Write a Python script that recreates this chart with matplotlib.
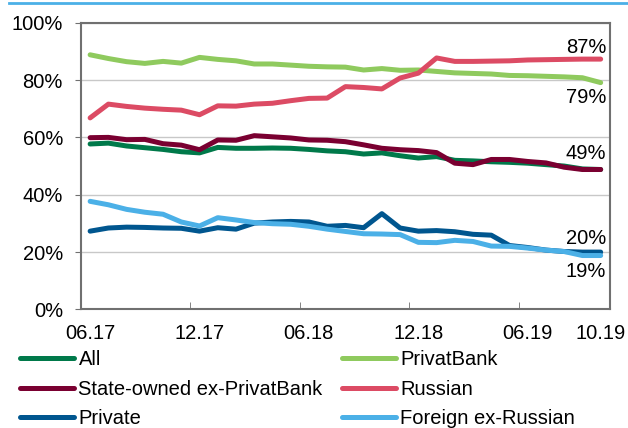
import matplotlib.pyplot as plt
from matplotlib.lines import Line2D
import numpy as np

plt.rcParams['font.family'] = ['Liberation Sans', 'DejaVu Sans']

# monthly, 06.17 .. 10.19
tick_pos = [0, 6, 12, 18, 24, 28]
tick_labels = ["06.17", "12.17", "06.18", "12.18", "06.19", "10.19"]

all_banks = [57.7, 58.0, 57.0, 56.4, 55.8, 55.0, 54.6, 56.5, 56.2, 56.2,
             56.3, 56.2, 55.8, 55.3, 55.0, 54.2, 54.6, 53.6, 52.8, 53.3,
             52.0, 51.8, 51.5, 51.3, 51.0, 50.5, 50.0, 49.0, 48.8]
privatbank = [88.8, 87.5, 86.4, 85.8, 86.5, 85.9, 87.9, 87.2, 86.7, 85.6,
              85.6, 85.2, 84.8, 84.6, 84.5, 83.5, 84.0, 83.4, 83.5, 83.0,
              82.5, 82.3, 82.1, 81.6, 81.5, 81.3, 81.1, 80.8, 79.1]
state_owned = [59.9, 60.0, 59.2, 59.3, 57.8, 57.3, 55.7, 59.1, 59.0, 60.6,
               60.2, 59.8, 59.1, 59.0, 58.5, 57.4, 56.2, 55.7, 55.4, 54.7,
               51.0, 50.5, 52.3, 52.3, 51.6, 51.1, 49.6, 48.8, 48.8]
russian = [66.8, 71.6, 70.8, 70.2, 69.8, 69.5, 67.9, 71.0, 70.9, 71.6,
           71.9, 72.8, 73.6, 73.7, 77.7, 77.4, 76.9, 80.7, 82.4, 87.7,
           86.5, 86.5, 86.6, 86.7, 87.0, 87.1, 87.2, 87.3, 87.3]
private = [27.3, 28.4, 28.7, 28.6, 28.4, 28.3, 27.3, 28.5, 28.0, 30.1,
           30.5, 30.7, 30.5, 29.0, 29.3, 28.5, 33.4, 28.4, 27.3, 27.5,
           27.1, 26.2, 25.9, 22.3, 21.6, 20.7, 20.2, 20.0, 20.0]
foreign = [37.7, 36.5, 34.9, 33.9, 33.2, 30.5, 29.1, 32.0, 31.2, 30.3,
           29.9, 29.7, 29.0, 28.0, 27.2, 26.4, 26.3, 26.1, 23.4, 23.3,
           24.1, 23.7, 22.1, 22.0, 21.4, 20.7, 20.2, 18.8, 18.8]

series = [
    ("All", all_banks, "#00794a"),
    ("PrivatBank", privatbank, "#8fca5e"),
    ("State-owned ex-PrivatBank", state_owned, "#7a0031"),
    ("Russian", russian, "#dc4b64"),
    ("Private", private, "#00568f"),
    ("Foreign ex-Russian", foreign, "#4bb0e7"),
]

end_labels = [("87%", 91.5), ("79%", 74.0), ("49%", 54.5), ("20%", 24.9), ("19%", 13.1)]

fs = 14.5
fig = plt.figure(figsize=(6.28, 4.28), dpi=100)
ax = fig.add_axes([0.129, 0.277, 0.842, 0.670])

x = np.arange(len(all_banks))
handles = []
for name, vals, col in series:
    h, = ax.plot(x, vals, color=col, lw=3.6, solid_capstyle='round', label=name)
    handles.append(h)

ax.set_xlim(-0.5, 28.5)
ax.set_ylim(0, 100)
ax.set_yticks(range(0, 101, 20))
ax.set_yticklabels([f"{v}%" for v in range(0, 101, 20)])
ax.set_xticks(tick_pos)
ax.set_xticklabels(tick_labels)
ax.set_xticks([5.5, 11.5, 17.5, 23.5], minor=True)
ax.tick_params(axis='x', which='major', length=0, pad=10.5, labelsize=fs)
ax.tick_params(axis='x', which='minor', length=5, direction='in', color='#707070')
ax.tick_params(axis='y', length=4, direction='out', pad=9, labelsize=fs, color='#707070')

ax.grid(axis='y', color='#c8c8c8', lw=1)
ax.set_axisbelow(True)
for s in ax.spines.values():
    s.set_color('#707070')
    s.set_linewidth(1.5)

for txt, yv in end_labels:
    ax.text(28.3, yv, txt, ha='right', va='center', fontsize=fs)

# legend fills row-wise in the reference
order = [0, 2, 4, 1, 3, 5]
fig.legend(handles=[handles[i] for i in order], loc='upper left',
           bbox_to_anchor=(0.032, 0.182), ncol=2, frameon=False, fontsize=fs,
           handlelength=2.7, handletextpad=0.2, columnspacing=0.95,
           labelspacing=0.52, borderpad=0, borderaxespad=0)

fig.add_artist(Line2D([0.015, 1.0], [0.993, 0.993], color='#4bb0e7', lw=2,
                      transform=fig.transFigure))

fig.savefig("out.png", dpi=100)
